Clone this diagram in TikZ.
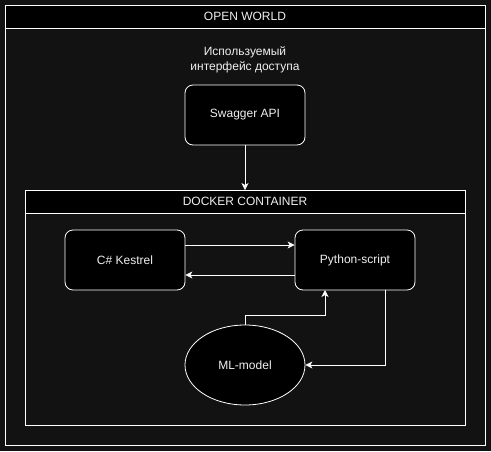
\documentclass[tikz,border=0pt]{standalone}
\usepackage{fontspec}
\setmainfont{Liberation Sans}
\usetikzlibrary{arrows.meta,shapes.geometric}
\definecolor{bgc}{HTML}{121212}
\definecolor{txt}{HTML}{F0F0F0}
\tikzset{
  frame/.style={draw=white, line width=0.8pt},
  hdr/.style={draw=white, fill=black, line width=0.8pt},
  box/.style={draw=white, fill=black, rounded corners=8pt, line width=0.8pt, minimum width=120pt, minimum height=60pt, text=txt, font=\fontsize{12}{14}\selectfont},
  oval/.style={draw=white, fill=black, ellipse, line width=0.8pt, minimum width=120pt, minimum height=80pt, inner sep=0pt, text=txt, font=\fontsize{12}{14}\selectfont},
  lbl/.style={text=txt, font=\fontsize{12}{14}\selectfont, align=center},
  conn/.style={draw=white, line width=0.8pt, -{Stealth[length=7pt,width=7pt,inset=2pt]}}
}
\begin{document}
\begin{tikzpicture}[x=1pt,y=-1pt]
\fill[bgc] (0,0) rectangle (491,451);
\useasboundingbox (0,0) rectangle (491,451);
% outer
\draw[frame] (5,5) rectangle (485,445);
\draw[hdr] (5,5) rectangle (485,28);
\node[lbl] (ow) at (245,16.5) {OPEN WORLD};
\node[lbl, font=\fontsize{12}{15.5}\selectfont] (iface) at (245,60) {Используемый\\интерфейс доступа};
\node[box] (sw) at (245,115) {Swagger API};
% docker
\draw[frame] (25,190) rectangle (465,425);
\draw[hdr] (25,190) rectangle (465,213);
\node[lbl] (dc) at (245,201.5) {DOCKER CONTAINER};
\coordinate (dtop) at (245,190);
\node[box] (ke) at (125,260) {C\# Kestrel};
\node[box] (py) at (355,260) {Python-script};
\node[oval] (ml) at (245,365) {ML-model};
\draw[conn] (sw.south) -- (dtop);
\draw[conn] ([yshift=15pt]ke.east) -- ([yshift=15pt]py.west);
\draw[conn] ([yshift=-15pt]py.west) -- ([yshift=-15pt]ke.east);
\draw[conn] (ml.north) -- (245,315) -- (325,315) -- (325,290);
\draw[conn] (385,290) -- (385,365) -- (ml.east);
\end{tikzpicture}
\end{document}
